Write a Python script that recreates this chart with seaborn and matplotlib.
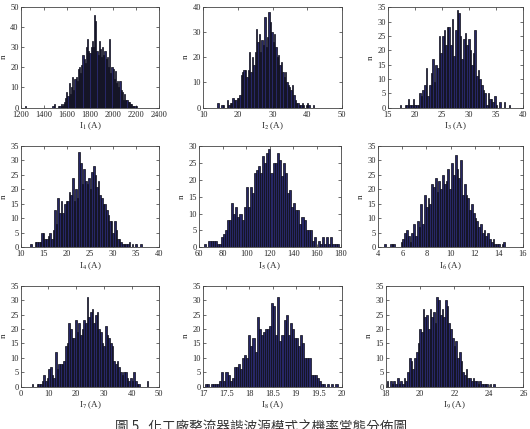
import numpy as np
import pandas as pd
import matplotlib
matplotlib.use("Agg")
import matplotlib.pyplot as plt
import seaborn as sns

# histogram counts per bin (bins spread evenly from lo to hi)
i1_counts = [1] + [0] * 23 + [
    1, 2, 0, 0, 0, 1, 1, 2, 1, 2, 3, 5, 8, 6, 12, 7, 10, 15, 9, 14,
    15, 13, 19, 20, 17, 21, 26, 24, 22, 30, 34, 28, 27, 30, 33, 30, 46, 43, 28, 26,
    33, 29, 25, 30, 26, 28, 24, 25, 20, 34, 17, 20, 19, 14, 18, 12, 13, 10, 13, 9,
    8, 4, 7, 4, 4, 3, 3, 2, 2, 1, 1, 1, 1]
i1_range = (1235, 2205)

i2_counts = [
    2, 0, 0, 1, 1, 0, 0, 3, 1, 2, 2, 4, 3, 3, 4, 4, 5, 13, 14, 15,
    15, 12, 15, 22, 14, 20, 17, 22, 31, 26, 29, 22, 27, 25, 36, 24, 28, 38, 34, 30,
    26, 29, 24, 20, 21, 17, 18, 14, 12, 14, 10, 9, 8, 7, 9, 5, 3, 2, 2, 1,
    1, 2, 1, 0, 1, 2, 1, 0, 0, 1]
i2_range = (14.0, 42.0)

i3_counts = [
    1, 0, 0, 1, 1, 3, 1, 1, 3, 1, 1, 1, 5, 4, 6, 8, 14, 4, 8, 12,
    17, 9, 15, 14, 25, 19, 25, 27, 22, 28, 28, 22, 31, 18, 27, 34, 33, 25, 17, 24,
    26, 22, 24, 20, 15, 19, 27, 11, 13, 10, 8, 6, 5, 1, 5, 3, 3, 2, 4, 1,
    0, 2, 0, 0, 2, 0, 0, 1]
i3_range = (17.2, 37.6)

i4_counts = [
    1, 0, 0, 2, 2, 2, 2, 5, 5, 3, 3, 4, 5, 3, 6, 13, 8, 17, 12, 16,
    12, 15, 16, 16, 19, 18, 24, 16, 20, 17, 33, 29, 22, 27, 23, 22, 24, 20, 26, 28,
    25, 21, 23, 18, 17, 15, 15, 13, 11, 9, 9, 5, 9, 6, 3, 3, 2, 1, 1, 1,
    1, 2, 0, 1, 0, 1, 0, 0, 1]
i4_range = (12.0, 36.15)

i5_counts = [
    1, 0, 2, 2, 2, 2, 1, 1, 3, 4, 5, 8, 8, 13, 10, 12, 9, 10, 8, 12,
    18, 12, 18, 16, 22, 23, 24, 22, 27, 25, 28, 29, 22, 25, 25, 28, 26, 21, 25, 22,
    16, 17, 12, 13, 11, 11, 7, 9, 8, 5, 5, 5, 2, 3, 0, 2, 1, 3, 1, 3,
    1, 3, 1, 1, 1]
i5_range = (64.5, 178.25)

i6_counts = [
    1, 0, 0, 1, 1, 1, 0, 0, 0, 2, 3, 5, 6, 4, 2, 5, 8, 4, 9, 7,
    15, 8, 18, 14, 17, 15, 22, 21, 24, 19, 23, 20, 25, 22, 23, 27, 20, 29, 25, 32,
    27, 24, 30, 18, 22, 18, 17, 13, 15, 12, 10, 9, 7, 8, 5, 6, 4, 5, 3, 2,
    3, 1, 1, 1, 0, 1, 2]
i6_range = (4.5, 14.55)

i7_counts = [
    1, 0, 0, 1, 1, 1, 2, 4, 2, 3, 6, 7, 4, 3, 12, 6, 8, 8, 8, 9,
    14, 15, 22, 20, 17, 17, 23, 19, 22, 18, 20, 23, 22, 31, 24, 26, 27, 22, 25, 26,
    20, 19, 15, 14, 21, 18, 17, 15, 14, 9, 8, 9, 7, 5, 4, 5, 5, 3, 2, 3,
    2, 5, 2, 1, 1, 0, 0, 0, 0, 2]
i7_range = (4.0, 46.0)

i8_counts = [
    1, 1, 0, 1, 1, 1, 1, 2, 5, 2, 5, 4, 2, 3, 7, 7, 8, 6, 10, 11,
    10, 18, 14, 17, 12, 24, 20, 18, 19, 20, 20, 21, 29, 28, 18, 31, 16, 18, 23, 25,
    18, 22, 20, 17, 17, 14, 18, 15, 10, 10, 10, 4, 4, 4, 3, 2, 1, 1, 0, 1,
    0, 1, 0, 1]
i8_range = (17.03, 19.91)

i9_counts = [
    2, 0, 2, 1, 2, 1, 3, 1, 2, 1, 3, 2, 5, 10, 9, 6, 10, 12, 15, 20,
    19, 27, 24, 25, 20, 27, 24, 26, 22, 31, 30, 25, 27, 24, 30, 28, 22, 20, 17, 14,
    16, 10, 12, 9, 5, 4, 6, 3, 3, 2, 3, 2, 2, 1, 2, 1, 1, 1, 1, 0,
    1, 0, 1]
i9_range = (18.05, 24.35)

x_ticks = [
    [1200, 1400, 1600, 1800, 2000, 2200, 2400],
    [10, 20, 30, 40, 50],
    [15, 20, 25, 30, 35, 40],
    [10, 15, 20, 25, 30, 35, 40],
    [60, 80, 100, 120, 140, 160, 180],
    [4, 6, 8, 10, 12, 14, 16],
    [0, 10, 20, 30, 40, 50],
    [17, 17.5, 18, 18.5, 19, 19.5, 20],
    [18, 20, 22, 24, 26],
]
y_max = [50, 40, 35, 35, 30, 35, 35, 35, 35]
y_step = [10, 10, 5, 5, 5, 5, 5, 5, 5]

caption = "圖 5   化工廠整流器諧波源模式之機率常態分佈圖"

all_counts = [i1_counts, i2_counts, i3_counts, i4_counts, i5_counts,
              i6_counts, i7_counts, i8_counts, i9_counts]
all_ranges = [i1_range, i2_range, i3_range, i4_range, i5_range,
              i6_range, i7_range, i8_range, i9_range]

sns.set_style("ticks")
plt.rcParams['font.family'] = ['Liberation Serif', 'Noto Sans CJK TC']
plt.rcParams['mathtext.fontset'] = 'stix'
plt.rcParams['xtick.direction'] = 'in'
plt.rcParams['ytick.direction'] = 'in'

W, H = 530, 429
fig = plt.figure(figsize=(W / 100, H / 100), dpi=100)

# axes boxes in pixels: left, right, top, bottom
boxes = [
    (20.7, 159.3, 6.7, 107.7), (203.3, 341.7, 6.7, 107.7), (387.7, 523.3, 7.3, 107.7),
    (20.7, 159.3, 146, 247.3), (199, 340.7, 146, 247.3), (378.3, 522.7, 146, 247.3),
    (20.7, 159.3, 285.7, 386.7), (203.3, 341.7, 285.7, 386.7), (385.7, 523.3, 285.7, 386.7),
]

for i in range(9):
    l, r, t, b = boxes[i]
    ax = fig.add_axes([l / W, 1 - b / H, (r - l) / W, (b - t) / H])
    counts = np.array(all_counts[i], dtype=float)
    lo, hi = all_ranges[i]
    edges = np.linspace(lo, hi, len(counts) + 1)
    centers = (edges[:-1] + edges[1:]) / 2
    df = pd.DataFrame({"x": centers, "n": counts})
    sns.histplot(data=df, x="x", weights="n", bins=list(edges), ax=ax,
                 color="#272766", edgecolor="#0b0b14", linewidth=0.5, alpha=1)
    xt = x_ticks[i]
    ax.set_xlim(xt[0], xt[-1])
    ax.set_xticks(xt)
    ax.set_xticklabels(["%g" % v for v in xt])
    ax.set_ylim(0, y_max[i])
    ax.set_yticks(np.arange(0, y_max[i] + 1, y_step[i]))
    ax.set_xlabel(r"I$_{%d}$ (A)" % (i + 1), fontsize=6.5, labelpad=1.2)
    ax.set_ylabel("n", fontsize=6.5, labelpad=2)
    ax.tick_params(axis="x", pad=2.3)
    ax.tick_params(axis="y", pad=1.5)
    ax.tick_params(labelsize=6, length=2, width=0.5,
                   top=True, right=True, color="#333333")
    for s in ax.spines.values():
        s.set_linewidth(0.6)
        s.set_color("#444444")

# caption sits at the very bottom, partly cut off as in the original page
fig.text(115 / W, 1 - 421 / H, caption, ha="left", va="top", fontsize=9.8,
         family=['Noto Sans CJK TC', 'DejaVu Sans'], color="#333333")

fig.savefig("out.png", dpi=100)
